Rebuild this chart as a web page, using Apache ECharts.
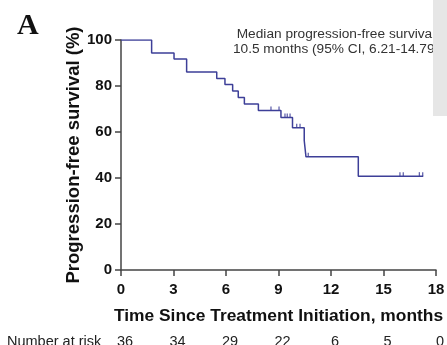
<!DOCTYPE html>
<html>
<head>
<meta charset="utf-8">
<script src="https://cdn.jsdelivr.net/npm/echarts@6/dist/echarts.min.js"></script>
<style>
  html, body { margin: 0; padding: 0; background: #fff; }
  #main { width: 447px; height: 345px; }
</style>
</head>
<body>
<div id="main"></div>
<script>
// Kaplan-Meier steps
var eventTimes = [0, 1.75, 3.03, 3.75, 5.47, 5.94, 6.38, 6.7, 7.05, 7.85, 9.14, 9.8, 10.47, 10.57, 13.56, 17.27];
var survival   = [100, 94.4, 91.7, 86.1, 83.3, 80.6, 77.8, 75.0, 72.2, 69.4, 66.3, 61.9, 56.3, 49.2, 40.8, 40.8];

// censored observations
var censorTimes  = [8.57, 9.03, 9.37, 9.5, 9.66, 10.04, 10.23, 10.7, 15.94, 16.13, 17.05, 17.24];
var censorValues = [69.4, 69.4, 66.3, 66.3, 66.3, 61.9, 61.9, 49.2, 40.8, 40.8, 40.8, 40.8];

var xTicks = [0, 3, 6, 9, 12, 15, 18];
var atRisk = [36, 34, 29, 22, 6, 5, 0];

var lineColor = '#3d3f98';
var axisColor = '#444';

var chart = echarts.init(document.getElementById('main'));

var option = {
    backgroundColor: '#fff',
    animation: false,
    grid: { left: 121, top: 40, right: 11, bottom: 75, outerBoundsMode: 'none' },
    xAxis: [
        {
            type: 'value',
            min: 0, max: 18, interval: 3,
            name: 'Time Since Treatment Initiation, months',
            nameLocation: 'middle',
            nameGap: 38,
            nameTextStyle: { fontFamily: 'Liberation Sans', fontWeight: 'bold', fontSize: 17.4, color: '#111' },
            axisLine: { lineStyle: { color: axisColor, width: 1.5 } },
            axisTick: { length: 6, lineStyle: { color: axisColor, width: 1.5 } },
            axisLabel: { margin: 12, fontFamily: 'Liberation Sans', fontWeight: 'bold', fontSize: 15, color: '#111' },
            splitLine: { show: false }
        },
        {
            type: 'value',
            position: 'bottom',
            offset: 64,
            min: 0, max: 18, interval: 3,
            axisLine: { show: false },
            axisTick: { show: false },
            splitLine: { show: false },
            axisLabel: {
                margin: 0,
                fontFamily: 'Liberation Sans', fontSize: 14.5, color: '#222',
                formatter: function (v) {
                    var i = xTicks.indexOf(v);
                    return i >= 0 ? '  ' + atRisk[i] : '';
                }
            }
        }
    ],
    yAxis: {
        type: 'value',
        min: 0, max: 100, interval: 20,
        name: 'Progression-free survival (%)',
        nameLocation: 'middle',
        nameGap: 38,
        nameMoveOverlap: false,
        nameTextStyle: { fontFamily: 'Liberation Sans', fontWeight: 'bold', fontSize: 18.5, color: '#111' },
        axisLine: { show: true, lineStyle: { color: axisColor, width: 1.5 } },
        axisTick: { show: true, length: 6, lineStyle: { color: axisColor, width: 1.5 } },
        axisLabel: { margin: 9, fontFamily: 'Liberation Sans', fontWeight: 'bold', fontSize: 15, color: '#111' },
        splitLine: { show: false }
    },
    series: [
        {
            type: 'line',
            step: 'end',
            showSymbol: false,
            data: eventTimes.map(function (t, i) { return [t, survival[i]]; }),
            lineStyle: { color: lineColor, width: 1.5 }
        },
        {
            type: 'scatter',
            symbol: 'rect',
            symbolSize: [1.3, 4],
            symbolOffset: [0, -2],
            data: censorTimes.map(function (t, i) { return [t, censorValues[i]]; }),
            itemStyle: { color: lineColor }
        }
    ],
    graphic: [
        {
            type: 'text', left: 17, top: 11,
            style: { text: 'A', font: 'bold 30px "Liberation Serif"', fill: '#111' }
        },
        {
            type: 'text', x: 336, y: 27,
            style: {
                text: 'Median progression-free survival\n10.5 months (95% CI, 6.21-14.79)',
                font: '13.7px "Liberation Sans"', fill: '#333',
                align: 'center', verticalAlign: 'top', lineHeight: 14.5
            }
        },
        {
            type: 'rect', shape: { x: 433, y: 0, width: 14, height: 116 },
            style: { fill: '#e6e6e6' }, z: 100
        },
        {
            type: 'text', x: 7, y: 342,
            style: { text: 'Number at risk', font: '14.5px "Liberation Sans"', fill: '#222', verticalAlign: 'middle' }
        }
    ]
};

chart.setOption(option);
</script>
</body>
</html>
